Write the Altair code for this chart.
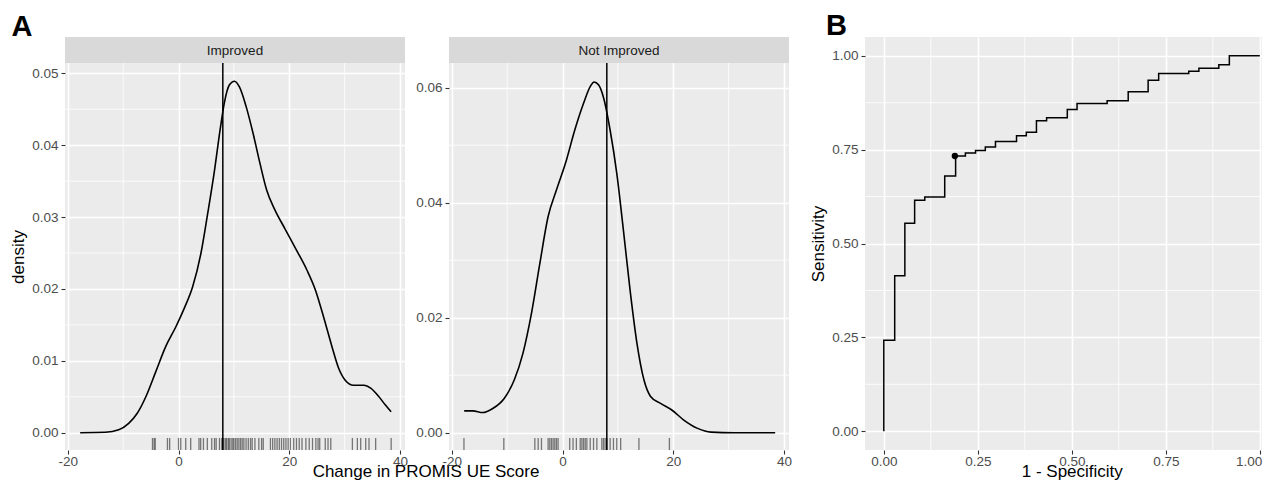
import altair as alt
import pandas as pd

FONT = "Liberation Sans"

# ---------------- data ----------------
# Panel A, "Improved": density curve
IMP_X = [-17.76, -13.2, -10.8, -9.0, -7.45, -5.9, -4.1, -2.3, -0.5, 1.03, 2.55, 4.06, 5.27,
         6.5, 7.5, 8.3, 9.2, 10.1, 11.0, 12.2, 13.45, 14.7, 15.9, 17.4, 19.2, 21.3, 23.2,
         24.7, 26.2, 27.7, 28.9, 30.1, 31.6, 33.5, 34.7, 36.2, 37.4, 38.4]
IMP_D = [0.0, 0.00005, 0.0004, 0.0013, 0.0027, 0.005, 0.0085, 0.012, 0.0147, 0.0173, 0.0203,
         0.025, 0.0305, 0.0365, 0.0421, 0.046, 0.0484, 0.0489, 0.0481, 0.0454, 0.0417, 0.0375,
         0.0338, 0.031, 0.0284, 0.0254, 0.0226, 0.0199, 0.0161, 0.012, 0.009, 0.0073, 0.0066,
         0.0066, 0.0062, 0.005, 0.0038, 0.0029]
# Panel A, "Not Improved": density curve
NOT_X = [-17.76, -16.2, -14.4, -12.6, -10.5, -8.7, -7.15, -5.6, -4.1, -2.6, -1.1, 0.7, 2.2,
         3.8, 5.0, 5.7, 6.5, 7.4, 8.6, 9.8, 11.0, 12.2, 13.45, 14.7, 15.9, 17.7, 19.8, 21.9,
         24.4, 26.8, 31.0, 38.4]
NOT_D = [0.0038, 0.0038, 0.0035, 0.0042, 0.006, 0.0092, 0.0138, 0.0208, 0.0294, 0.0376,
         0.0422, 0.0474, 0.0526, 0.0573, 0.0602, 0.061, 0.0605, 0.0583, 0.0526, 0.0451,
         0.0352, 0.0248, 0.0155, 0.0092, 0.0063, 0.0051, 0.0039, 0.0022, 0.00075, 0.0001,
         0.0, 0.0]
# rug values
IMP_RUG = [-4.7, -4.4, -4.2, -2.0, -1.6, 0.0, 0.4, 1.3, 2.2, 3.7, 4.0, 4.5, 5.2, 6.0, 6.5,
           6.8, 7.4, 7.8, 8.0, 8.2, 8.5, 8.7, 9.0, 9.2, 9.5, 9.8, 10.0, 10.3, 10.6, 10.9,
           11.2, 11.5, 11.8, 12.2, 12.6, 13.0, 13.3, 13.8, 14.5, 15.0, 15.3, 16.6, 17.0,
           17.4, 17.8, 18.2, 18.6, 19.0, 19.4, 19.8, 20.2, 20.8, 21.3, 21.8, 22.3, 23.0,
           23.6, 24.2, 24.8, 25.2, 25.5, 26.5, 27.0, 27.5, 31.4, 32.3, 32.9, 33.8, 34.4,
           35.6, 38.4]
NOT_RUG = [-17.8, -10.6, -5.0, -4.4, -3.8, -2.6, -2.3, -2.0, -1.7, -1.4, -1.1, -0.8, 1.3,
           1.9, 2.5, 3.2, 3.5, 3.8, 4.1, 4.4, 5.0, 5.6, 6.2, 7.1, 7.4, 7.7, 8.0, 8.6, 9.2,
           9.8, 10.5, 13.8, 19.3]
CUTOFF = [8]

# Panel B: ROC curve
ROC_FPR = [0, 0, 0.029, 0.056, 0.082, 0.109, 0.162, 0.191, 0.217, 0.244, 0.270, 0.297,
           0.353, 0.379, 0.406, 0.433, 0.488, 0.514, 0.594, 0.650, 0.703, 0.731, 0.811,
           0.838, 0.891, 0.919, 1.0]
ROC_TPR = [0, 0.2425, 0.414, 0.554, 0.615, 0.624, 0.680, 0.733, 0.741, 0.748, 0.757, 0.772,
           0.787, 0.796, 0.827, 0.835, 0.857, 0.873, 0.880, 0.904, 0.935, 0.953, 0.959,
           0.967, 0.976, 1.0, 1.0]
OPT_FPR = [0.189]
OPT_TPR = [0.733]

# ticks / grid values
X_TICKS = [-20, 0, 20, 40]
X_MINOR = [-10, 10, 30]
IMP_Y_TICKS = [0, 0.01, 0.02, 0.03, 0.04, 0.05]
IMP_Y_MINOR = [0.005, 0.015, 0.025, 0.035, 0.045]
NOT_Y_TICKS = [0, 0.02, 0.04, 0.06]
NOT_Y_MINOR = [0.01, 0.03, 0.05]
ROC_TICKS = [0, 0.25, 0.5, 0.75, 1.0]
ROC_MINOR = [0.125, 0.375, 0.625, 0.875]

X_TITLES = ["Change in PROMIS UE Score", "1 - Specificity"]

# ---------------- layout ----------------
PANEL_W = 340
PLOT_H = 413
STRIP_H = 26
XMIN, XMAX = -20.5, 40.9
XSPAN = XMAX - XMIN
LABEL_PAD = 0
TICK = 4
TITLE_BASE = PLOT_H + 27   # baseline of the x titles, below the plot area


def xtitle_layer(text, x):
    return alt.Chart(pd.DataFrame({"t": [text]})).mark_text(
        font=FONT, fontSize=17, color="black", align="center", baseline="alphabetic"
    ).encode(text="t:N", x=alt.value(x), y=alt.value(TITLE_BASE))


def density_panel(xs, ds, rug, label, ydom, yticks, yminor, ytitle, extra_w, letter):
    width = PANEL_W + extra_w
    xscale = alt.Scale(domain=[XMIN, XMIN + width * XSPAN / PANEL_W], nice=False, zero=False)
    # data area is the lower part of the plot, strip is drawn on top
    lo, hi = ydom
    top = hi + STRIP_H * (hi - lo) / (PLOT_H - STRIP_H)
    yscale = alt.Scale(domain=[lo, top], nice=False, zero=False)

    xaxis = alt.Axis(values=X_TICKS, labelExpr="'' + datum.value", labelPadding=LABEL_PAD,
                     title=None)
    if ytitle:
        yaxis = alt.Axis(values=yticks, format=".2f", labelPadding=3, minExtent=34,
                         maxExtent=34, title=ytitle, titlePadding=4, titleY=219.5)
    else:
        yaxis = alt.Axis(values=yticks, format=".2f", labelPadding=3, title=None)

    X = lambda f: alt.X(f, type="quantitative", scale=xscale, axis=xaxis)
    Y = lambda f: alt.Y(f, type="quantitative", scale=yscale, axis=yaxis)

    curve = pd.DataFrame({"x": xs, "d": ds})
    layers = [
        alt.Chart(pd.DataFrame({"x": X_MINOR})).mark_rule(color="white", strokeWidth=0.8)
        .encode(x=X("x")),
        alt.Chart(pd.DataFrame({"d": yminor})).mark_rule(color="white", strokeWidth=0.8)
        .encode(y=Y("d")),
        alt.Chart(curve).mark_line(color="black", strokeWidth=1.6, interpolate="monotone")
        .encode(x=X("x"), y=Y("d")),
        alt.Chart(pd.DataFrame({"x": rug})).mark_rule(color="black", strokeWidth=1.3, opacity=0.5)
        .encode(x=X("x"), y=alt.value(PLOT_H - 12), y2=alt.value(PLOT_H)),
        alt.Chart(pd.DataFrame({"x": CUTOFF})).mark_rule(color="black", strokeWidth=1.5)
        .encode(x=X("x"), y=alt.value(STRIP_H), y2=alt.value(PLOT_H)),
    ]
    if extra_w:
        layers.append(
            alt.Chart(pd.DataFrame({"k": [0]})).mark_rect(color="white")
            .encode(x=alt.value(PANEL_W), x2=alt.value(width + 1),
                    y=alt.value(-1), y2=alt.value(PLOT_H + 1)))
    layers += [
        alt.Chart(pd.DataFrame({"t": [label]})).mark_rect(color="#D9D9D9")
        .encode(x=alt.value(0), x2=alt.value(PANEL_W), y=alt.value(0), y2=alt.value(STRIP_H)),
        alt.Chart(pd.DataFrame({"t": [label]})).mark_text(
            font=FONT, fontSize=13.5, color="#1A1A1A", baseline="middle", align="center")
        .encode(text="t:N", x=alt.value(PANEL_W / 2), y=alt.value(14)),
    ]
    if letter:
        layers.append(
            alt.Chart(pd.DataFrame({"t": [letter]})).mark_text(
                font=FONT, fontSize=29, fontWeight="bold", color="black",
                align="left", baseline="alphabetic")
            .encode(text="t:N", x=alt.value(-53.5), y=alt.value(-1)))
        # invisible anchor fixing the top-left corner of the whole figure
        layers.append(
            alt.Chart(pd.DataFrame({"k": [0]})).mark_rect(opacity=0)
            .encode(x=alt.value(-57), x2=alt.value(-56), y=alt.value(-29), y2=alt.value(-28)))
        # shared x title, centred between the two density panels
        layers.append(xtitle_layer(X_TITLES[0], 361))
    return alt.layer(*layers).properties(width=width, height=PLOT_H)


a1 = density_panel(IMP_X, IMP_D, IMP_RUG, "Improved", (-0.00241, 0.051433), IMP_Y_TICKS,
                   IMP_Y_MINOR, "density", 0, "A")
a2 = density_panel(NOT_X, NOT_D, NOT_RUG, "Not Improved", (-0.003009, 0.064296), NOT_Y_TICKS,
                   NOT_Y_MINOR, None, 32, None)

# Panel B (its right part is cut by the page edge, as in the reference)
B_W = 397
bx = alt.Scale(domain=[-0.05, -0.05 + B_W / 376.0], nice=False, zero=False)
by = alt.Scale(domain=[-0.05, 1.05], nice=False, zero=False)
bxaxis = alt.Axis(values=ROC_TICKS, format=".2f", title=None, labelPadding=LABEL_PAD,
                  labelFlush=11, labelFlushOffset=2)
byaxis = alt.Axis(values=ROC_TICKS, format=".2f", title="Sensitivity", titlePadding=4,
                  labelPadding=3, minExtent=34, maxExtent=34)
BX = lambda f: alt.X(f, type="quantitative", scale=bx, axis=bxaxis)
BY = lambda f: alt.Y(f, type="quantitative", scale=by, axis=byaxis)

roc = pd.DataFrame({"fpr": ROC_FPR, "tpr": ROC_TPR, "i": list(range(len(ROC_FPR)))})
b = alt.layer(
    alt.Chart(pd.DataFrame({"v": ROC_MINOR})).mark_rule(color="white", strokeWidth=0.8)
    .encode(x=BX("v")),
    alt.Chart(pd.DataFrame({"v": ROC_MINOR})).mark_rule(color="white", strokeWidth=0.8)
    .encode(y=BY("v")),
    alt.Chart(roc).mark_line(color="black", strokeWidth=1.5, interpolate="step-after")
    .encode(x=BX("fpr"), y=BY("tpr"), order="i:Q"),
    alt.Chart(pd.DataFrame({"fpr": OPT_FPR, "tpr": OPT_TPR})).mark_point(
        filled=True, color="black", size=40, opacity=1)
    .encode(x=BX("fpr"), y=BY("tpr")),
    alt.Chart(pd.DataFrame({"t": ["B"]})).mark_text(
        font=FONT, fontSize=29, fontWeight="bold", color="black",
        align="left", baseline="alphabetic")
    .encode(text="t:N", x=alt.value(-39), y=alt.value(-2)),
    xtitle_layer(X_TITLES[1], 207.3),
).properties(width=B_W, height=PLOT_H)

chart = alt.hconcat(a1, a2, b, spacing=44, bounds="flush").properties(
    padding={"left": 0, "top": 0, "right": 0, "bottom": 0}
).configure_view(
    fill="#EBEBEB", stroke=None
).configure_axis(
    labelFont=FONT, labelFontSize=13.5, labelColor="#4D4D4D",
    tickColor="#333333", tickSize=TICK, tickWidth=1.1, domain=False,
    gridColor="white", gridWidth=1.6,
    titleFont=FONT, titleFontSize=17, titleColor="black", titleFontWeight="normal",
)

chart.save("out.html", embed_options={"renderer": "svg", "actions": False})
